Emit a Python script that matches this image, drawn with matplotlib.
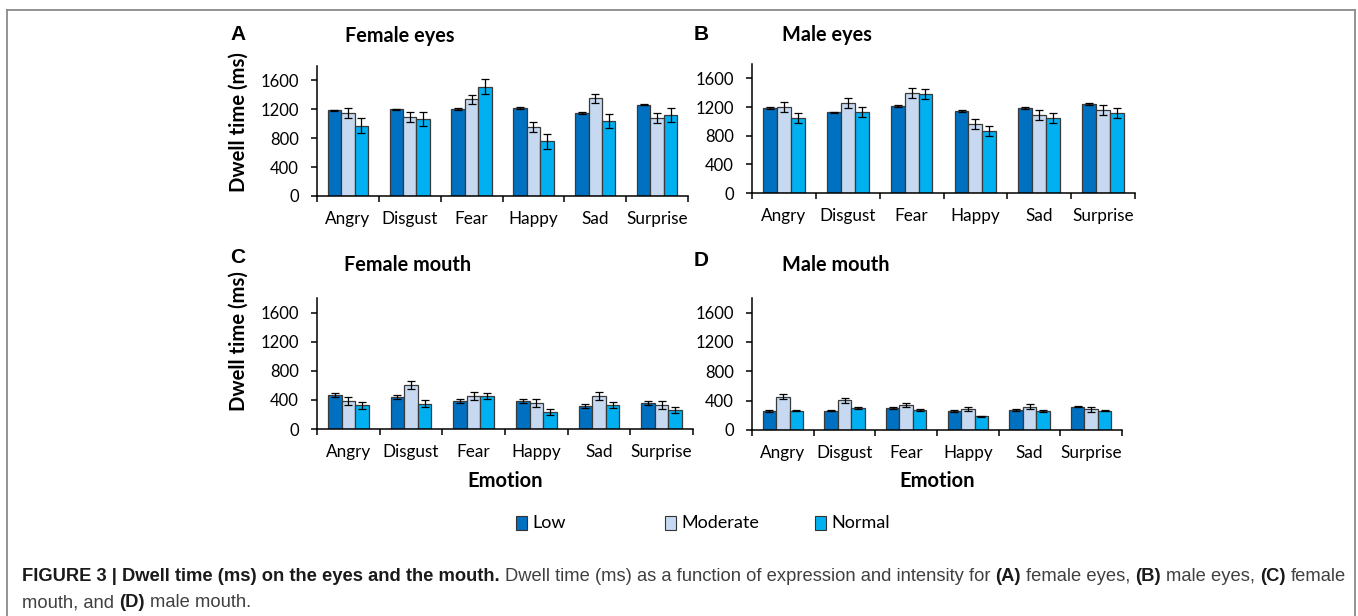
import matplotlib
matplotlib.use('Agg')
import matplotlib.pyplot as plt
import numpy as np
from matplotlib.lines import Line2D
from matplotlib.patches import Rectangle

W, H = 1358, 616

emotions = ['Angry', 'Disgust', 'Fear', 'Happy', 'Sad', 'Surprise']
levels = ['Low', 'Moderate', 'Normal']
colors = ['#0070C0', '#C6D9F1', '#00B0F0']

# A: female eyes
fe_low = [1185, 1200, 1200, 1220, 1150, 1265]
fe_mod = [1150, 1095, 1340, 955, 1355, 1080]
fe_norm = [975, 1060, 1515, 755, 1035, 1125]
fe_low_err = [10, 10, 12, 10, 10, 10]
fe_mod_err = [68, 68, 64, 67, 64, 67]
fe_norm_err = [100, 97, 100, 100, 100, 100]

# B: male eyes
me_low = [1185, 1125, 1210, 1145, 1185, 1245]
me_mod = [1205, 1250, 1395, 965, 1090, 1160]
me_norm = [1045, 1135, 1380, 870, 1050, 1115]
me_low_err = [15, 12, 15, 15, 12, 12]
me_mod_err = [68, 70, 68, 66, 68, 65]
me_norm_err = [70, 70, 70, 70, 70, 70]

# C: female mouth
fm_low = [470, 440, 380, 390, 315, 360]
fm_mod = [385, 600, 460, 360, 450, 330]
fm_norm = [325, 350, 450, 230, 335, 265]
fm_low_err = [30, 30, 28, 28, 28, 28]
fm_mod_err = [58, 57, 55, 57, 57, 59]
fm_norm_err = [50, 46, 38, 40, 42, 42]

# D: male mouth
mm_low = [260, 265, 300, 260, 275, 320]
mm_mod = [455, 405, 340, 285, 320, 280]
mm_norm = [265, 295, 275, 185, 260, 265]
mm_low_err = [10, 10, 10, 8, 10, 8]
mm_mod_err = [32, 32, 32, 32, 32, 32]
mm_norm_err = [10, 12, 12, 10, 12, 10]

yticks = [0, 400, 800, 1200, 1600]

FONT = 'Lato'


def fx(x):
    return x / W


def fy(y):
    return 1 - y / H


fig = plt.figure(figsize=(W / 100, H / 100), dpi=100)

# panels: (left, right, top, bottom) in pixels, title, letter, data
panels = [
    ((317, 688, 66, 196), 'Female eyes', 'A', (238, 35), (400, 36),
     [fe_low, fe_mod, fe_norm], [fe_low_err, fe_mod_err, fe_norm_err], True, False),
    ((752, 1135, 64, 193), 'Male eyes', 'B', (701, 35), (827, 35),
     [me_low, me_mod, me_norm], [me_low_err, me_mod_err, me_norm_err], False, False),
    ((317, 693, 298, 429), 'Female mouth', 'C', (238, 258), (408, 265),
     [fm_low, fm_mod, fm_norm], [fm_low_err, fm_mod_err, fm_norm_err], True, True),
    ((752, 1122, 298, 430), 'Male mouth', 'D', (701, 260), (836, 265),
     [mm_low, mm_mod, mm_norm], [mm_low_err, mm_mod_err, mm_norm_err], False, True),
]

x = np.arange(len(emotions))
bw = 0.217

for (l, r, t, b), title, letter, lpos, tpos, series, errs, ylab, xlab in panels:
    ax = fig.add_axes([fx(l), fy(b), (r - l) / W, (b - t) / H])
    for i in range(3):
        ax.bar(x + (i - 1) * bw, series[i], bw, yerr=errs[i], color=colors[i],
               edgecolor='#3a3a3a', linewidth=0.9,
               error_kw=dict(ecolor='black', elinewidth=0.9, capsize=3, capthick=0.9))
    ax.set_ylim(0, 1800)
    ax.set_xlim(-0.5, 5.5)
    ax.set_yticks(yticks)
    ax.set_yticklabels([str(v) for v in yticks], fontsize=12, family=FONT)
    ax.set_xticks(np.arange(-0.5, 6, 1))
    ax.set_xticklabels([])
    ax.set_xticks(x, minor=True)
    ax.set_xticklabels(emotions, minor=True, fontsize=12.3, family=FONT)
    ax.tick_params(axis='x', which='major', length=4.5, width=1.1, direction='out')
    ax.tick_params(axis='x', which='minor', length=0, pad=11)
    ax.tick_params(axis='y', length=4.5, width=1.1, pad=8.5)
    for s in ['top', 'right']:
        ax.spines[s].set_visible(False)
    for s in ['left', 'bottom']:
        ax.spines[s].set_linewidth(1.1)
    fig.text(fx(lpos[0]), fy(lpos[1]), letter, fontsize=15, fontweight='bold',
             family='Liberation Sans', ha='center', va='center')
    fig.text(fx(tpos[0]), fy(tpos[1]), title, fontsize=14.3, fontweight='bold',
             family=FONT, ha='center', va='center')
    if ylab:
        fig.text(fx(239), fy(122 if letter == 'A' else 341), 'Dwell time (ms)', rotation=90,
                 fontsize=14.6, fontweight='bold', family=FONT, ha='center', va='center')
    if xlab:
        fig.text(fx((l + r) / 2), fy(481), 'Emotion', fontsize=14.5, fontweight='bold',
                 family=FONT, ha='center', va='center')

# legend
leg_x = [516, 665, 815]
for i, name in enumerate(levels):
    fig.patches.append(Rectangle((fx(leg_x[i]), fy(530)), 11 / W, 14 / H,
                                 transform=fig.transFigure, facecolor=colors[i],
                                 edgecolor='#333333', linewidth=0.8))
    fig.text(fx(leg_x[i] + 16), fy(523), name, fontsize=13, family=FONT,
             ha='left', va='center')

# caption, built from chained pieces
cax = fig.add_axes([0, 0, 1, 1])
cax.axis('off')


def caption_line(pieces, x0, y0):
    prev = None
    for text, bold in pieces:
        kw = dict(fontsize=13.2, family='Liberation Sans',
                  fontweight='bold' if bold else 'normal',
                  color='#1a1a1a' if bold else '#404040', va='bottom', ha='left')
        if prev is None:
            prev = cax.text(fx(x0), fy(y0), text, transform=fig.transFigure, **kw)
        else:
            prev = cax.annotate(text, xy=(1, 0), xycoords=prev, xytext=(3.7, 0),
                                textcoords='offset points', **kw)


caption_line([
    ('FIGURE 3 | Dwell time (ms) on the eyes and the mouth.', True),
    ('Dwell time (ms) as a function of expression and intensity for', False),
    ('(A)', True), ('female eyes,', False),
    ('(B)', True), ('male eyes,', False),
    ('(C)', True), ('female', False),
], 22, 585)
caption_line([
    ('mouth, and', False), ('(D)', True), ('male mouth.', False),
], 22, 611)

# frame around the figure
frame = dict(color='#8a8a8a', linewidth=1.3, transform=fig.transFigure)
fig.lines.append(Line2D([fx(7), fx(7)], [fy(H + 5), fy(10)], **frame))
fig.lines.append(Line2D([fx(7), fx(1355)], [fy(10), fy(10)], **frame))
fig.lines.append(Line2D([fx(1355), fx(1355)], [fy(10), fy(H + 5)], **frame))

fig.savefig('out.png', dpi=100)
